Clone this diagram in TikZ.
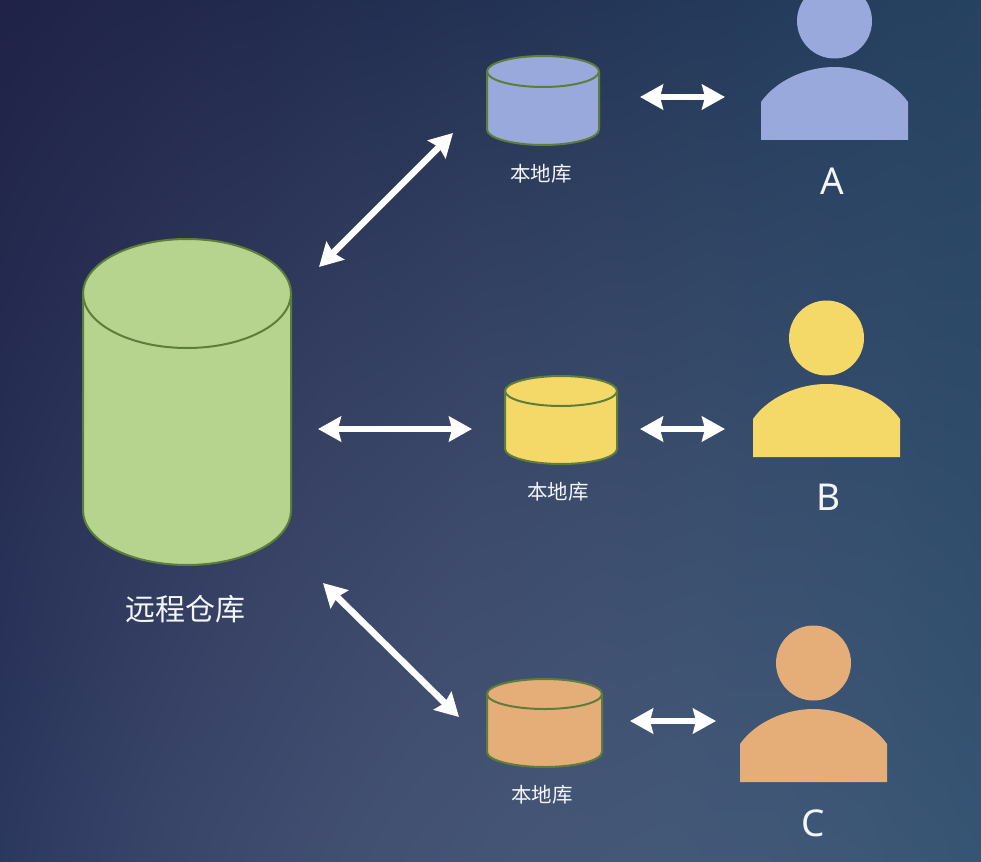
\documentclass[tikz,border=0pt]{standalone}
\usepackage{fontspec}
\setmainfont{Noto Sans}
\newfontfamily\cjk{Noto Sans CJK SC}
\newfontfamily\ltr{Noto Sans}
\usetikzlibrary{arrows.meta}
\pgfdeclarefunctionalshading{bgsh}{\pgfpoint{0bp}{0bp}}{\pgfpoint{100bp}{100bp}}{}{
25 sub 50 div exch 25 sub 50 div exch
1 index dup 1 exch sub mul 1 index dup mul 1 exch sub mul 4 mul
dup 0.077 mul 3 index 0.040 mul add 2 index -0.045 mul add 3 index 3 index mul -0.015 mul add 0.170 add
1 index 0.055 mul 4 index 0.110 mul add 3 index -0.087 mul add 4 index 4 index mul 0.017 mul add 0.220 add
2 index 0.049 mul 5 index 0.080 mul add 4 index -0.092 mul add 5 index 5 index mul 0.022 mul add 0.370 add
6 3 roll pop pop pop
}
\definecolor{cgreen}{HTML}{B7D48E}
\definecolor{cblue}{HTML}{9AA9DC}
\definecolor{cyellow}{HTML}{F5D968}
\definecolor{corange}{HTML}{E5AE78}
\definecolor{cedge}{HTML}{5D7D3A}
\definecolor{ctext}{HTML}{F4F6FA}
\tikzset{
  x=1pt,y=-1pt,
  dbl/.style={draw=white,line width=6.5pt,{Stealth[length=23pt,width=25pt,inset=3pt]}-{Stealth[length=23pt,width=25pt,inset=3pt]}},
  lab/.style={text=ctext,inner sep=0pt},
  person/.pic={
    \fill[pic actions] (0,-119) circle[radius=37.5];
    \fill[pic actions] (-73.5,0) -- (-73.5,-38) .. controls (-58,-60) and (-28,-73) .. (0,-73)
      .. controls (28,-73) and (58,-60) .. (73.5,-38) -- (73.5,0) -- cycle;
  }
}
% name, colour, cx, cy, half width, half height, ellipse y radius, line width
\newcommand\drum[8]{%
  \node[minimum width=#5*2pt,minimum height=#6*2pt,inner sep=0pt,outer sep=0pt] (#1) at (#3,#4) {};
  \begin{scope}[shift={(#3,#4)}]
    \draw[fill=#2,draw=cedge,line width=#8pt]
      (-#5,{-#6+#7}) -- (-#5,{#6-#7})
      .. controls (-#5,{#6-#7+0.55*#7}) and ({-0.55*#5},#6) .. (0,#6)
      .. controls ({0.55*#5},#6) and (#5,{#6-#7+0.55*#7}) .. (#5,{#6-#7})
      -- (#5,{-#6+#7})
      .. controls (#5,{-#6+#7-0.55*#7}) and ({0.55*#5},-#6) .. (0,-#6)
      .. controls ({-0.55*#5},-#6) and (-#5,{-#6+#7-0.55*#7}) .. (-#5,{-#6+#7}) -- cycle;
    \draw[draw=cedge,line width=#8pt]
      (-#5,{-#6+#7})
      .. controls (-#5,{-#6+#7+0.55*#7}) and ({-0.55*#5},{-#6+2*#7}) .. (0,{-#6+2*#7})
      .. controls ({0.55*#5},{-#6+2*#7}) and (#5,{-#6+#7+0.55*#7}) .. (#5,{-#6+#7});
  \end{scope}}
\begin{document}
\begin{tikzpicture}
\useasboundingbox (0,0) rectangle (981,861);
\shade[shading=bgsh] (0,0) rectangle (981,861);

\drum{remote}{cgreen}{187}{402}{104}{163}{54.5}{2}
\drum{blue}{cblue}{543}{100.5}{56}{44.5}{15.5}{2}
\drum{yellow}{cyellow}{561}{420}{56}{44}{15}{2}
\drum{orange}{corange}{544.5}{723}{57.5}{44}{15}{2}

\node[lab,font=\cjk\fontsize{30}{30}\selectfont] (rlabel) at (185,609) {远程仓库};
\node[lab,font=\cjk\fontsize{20.5}{20.5}\selectfont] (blabel) at (541,174) {本地库};
\node[lab,font=\cjk\fontsize{20.5}{20.5}\selectfont] (ylabel) at (558,492) {本地库};
\node[lab,font=\cjk\fontsize{20.5}{20.5}\selectfont] (olabel) at (542,795) {本地库};

\pic[fill=cblue] at (834.5,140) {person};
\pic[fill=cyellow] at (826.5,457) {person};
\pic[fill=corange] at (813.5,782) {person};
\node[lab,font=\ltr\fontsize{37}{37}\selectfont] (la) at (832,181) {A};
\node[lab,font=\ltr\fontsize{37}{37}\selectfont] (lb) at (829,497) {B};
\node[lab,font=\ltr\fontsize{37}{37}\selectfont] (lc) at (813,823) {C};

\coordinate (r1) at (319,267);
\coordinate (b1) at (453,133);
\coordinate (r2) at (318,429);
\coordinate (y1) at (472,429);
\coordinate (r3) at (323,583);
\coordinate (o1) at (459,717);
\coordinate (b2) at (640,97);
\coordinate (pa) at (725,97);
\coordinate (y2) at (640,429);
\coordinate (pb) at (725,429);
\coordinate (o2) at (630,721);
\coordinate (pc) at (716,721);
\draw[dbl] (r1) -- (b1);
\draw[dbl] (r2) -- (y1);
\draw[dbl] (r3) -- (o1);
\draw[dbl] (b2) -- (pa);
\draw[dbl] (y2) -- (pb);
\draw[dbl] (o2) -- (pc);
\end{tikzpicture}
\end{document}
